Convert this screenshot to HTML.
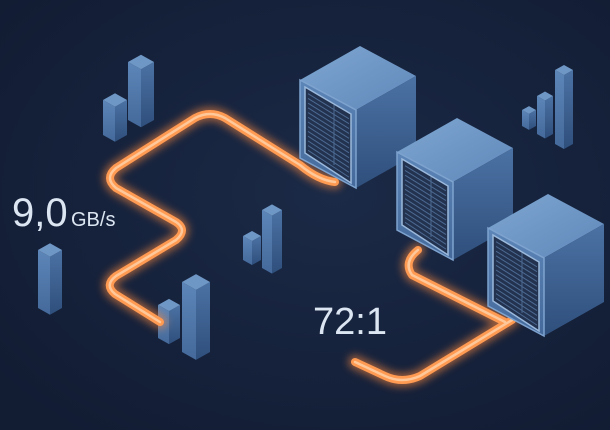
<!DOCTYPE html>
<html><head><meta charset="utf-8"><style>
html,body{margin:0;padding:0;background:#17233d;}
svg{display:block}
</style></head><body>
<svg id="s" width="610" height="430" viewBox="0 0 610 430" xmlns="http://www.w3.org/2000/svg">
<defs>
<radialGradient id="bg" cx="0.55" cy="0.45" r="0.7">
<stop offset="0" stop-color="#1b2a47"/><stop offset="1" stop-color="#121c33"/>
</radialGradient>
<filter id="glow" x="-20%" y="-20%" width="140%" height="140%"><feGaussianBlur stdDeviation="4"/></filter>
<linearGradient id="top" x1="0" y1="0" x2="1" y2="1"><stop offset="0" stop-color="#7fa6d2"/><stop offset="1" stop-color="#5f88b9"/></linearGradient>
<linearGradient id="front" x1="0" y1="0" x2="0" y2="1"><stop offset="0" stop-color="#5d86b8"/><stop offset="1" stop-color="#44699a"/></linearGradient>
<linearGradient id="side" x1="0" y1="0" x2="0" y2="1"><stop offset="0" stop-color="#4b72a4"/><stop offset="1" stop-color="#2f4f7c"/></linearGradient>
</defs>
<rect width="610" height="430" fill="url(#bg)"/>
<g id="bars"></g>
<g fill="none" stroke-linecap="round" stroke-linejoin="round">
<path d="M160 322 L115 294 Q104 285 116 276 L176 240 Q188 230 176 222 L116 188 Q104 178 116 168 L195 118 Q210 110 225 118 L300 165 Q318 180 335 182" stroke="#ff8a3c" stroke-width="14" opacity="0.55" filter="url(#glow)"/>
<path d="M160 322 L115 294 Q104 285 116 276 L176 240 Q188 230 176 222 L116 188 Q104 178 116 168 L195 118 Q210 110 225 118 L300 165 Q318 180 335 182" stroke="#ff9a52" stroke-width="8"/>
<path d="M160 322 L115 294 Q104 285 116 276 L176 240 Q188 230 176 222 L116 188 Q104 178 116 168 L195 118 Q210 110 225 118 L300 165 Q318 180 335 182" stroke="#ffc89a" stroke-width="2.5"/>
<path d="M418 250 Q403 262 412 275 L505 322 M512 320 L420 376 Q402 384 385 376 L355 362" stroke="#ff8a3c" stroke-width="14" opacity="0.55" filter="url(#glow)"/>
<path d="M418 250 Q403 262 412 275 L505 322 M512 320 L420 376 Q402 384 385 376 L355 362" stroke="#ff9a52" stroke-width="8"/>
<path d="M418 250 Q403 262 412 275 L505 322 M512 320 L420 376 Q402 384 385 376 L355 362" stroke="#ffc89a" stroke-width="2.5"/>
</g>
<g id="cubes"></g>
<text x="12" y="226" font-family="Liberation Sans, sans-serif" font-size="40" fill="#dce6f2">9,0</text>
<text x="71" y="226" font-family="Liberation Sans, sans-serif" font-size="20" fill="#dce6f2">GB/s</text>
<text x="313" y="334" font-family="Liberation Sans, sans-serif" font-size="38" fill="#dce6f2">72:1</text>
</svg>
<script>
var NS="http://www.w3.org/2000/svg";
function poly(g,pts,fill,stroke){var p=document.createElementNS(NS,"polygon");p.setAttribute("points",pts.map(function(a){return a.join(",")}).join(" "));p.setAttribute("fill",fill);if(stroke){p.setAttribute("stroke",stroke);p.setAttribute("stroke-width","1.5");}g.appendChild(p);return p;}
var bars=document.getElementById("bars");
function bar(x,y,w,b){var h=w*0.28,m=x+w/2;
poly(bars,[[x,y],[m,y+h],[m,b+h],[x,b]],"url(#front)");
poly(bars,[[m,y+h],[x+w,y],[x+w,b],[m,b+h]],"url(#side)");
poly(bars,[[x,y],[m,y-h],[x+w,y],[m,y+h]],"#6f97c6");}
[[103,100,24,135],[128,62,26,120],[38,250,24,308],[158,305,22,338],[182,282,28,352],[243,236,18,260],[262,210,20,268],[522,110,14,126],[537,96,16,134],[555,70,18,144]].forEach(function(a){bar.apply(null,a)});
var cubes=document.getElementById("cubes");
function cube(x,y){
var fw=56,fh=78,dx=60,dy=-34,sk=30;
var A=[x,y],B=[x+fw,y+sk],C=[x+fw,y+sk+fh],D=[x,y+fh];
var E=[x+dx,y+dy],F=[x+fw+dx,y+sk+dy],G=[x+fw+dx,y+sk+fh+dy];
poly(cubes,[A,E,F,B],"url(#top)");
poly(cubes,[B,F,G,C],"url(#side)");
poly(cubes,[A,B,C,D],"url(#front)","#7ea3cf");
var i=5,gx=x+i,gy=y+i+2;
poly(cubes,[[gx,gy],[x+fw-i,y+sk+i-1],[x+fw-i,y+sk+fh-i],[gx,y+fh-i]],"#22324f","#9bb9dc");
for(var k=1;k<14;k++){var t=k/14;var l=document.createElementNS(NS,"line");
var y1=gy+t*(fh-2*i-2),y2=y+sk+i-1+t*(fh-2*i);
l.setAttribute("x1",gx+3);l.setAttribute("y1",y1+2);l.setAttribute("x2",x+fw-i-2);l.setAttribute("y2",y2);l.setAttribute("stroke","#4d6a92");l.setAttribute("stroke-width","1");cubes.appendChild(l);}
var v=document.createElementNS(NS,"line");v.setAttribute("x1",x+fw/2+6);v.setAttribute("y1",y+sk/2+10);v.setAttribute("x2",x+fw/2+6);v.setAttribute("y2",y+sk/2+fh-8);v.setAttribute("stroke","#4d6a92");cubes.appendChild(v);}
cube(300,80);cube(397,152);cube(488,228);
</script>
</body></html>
